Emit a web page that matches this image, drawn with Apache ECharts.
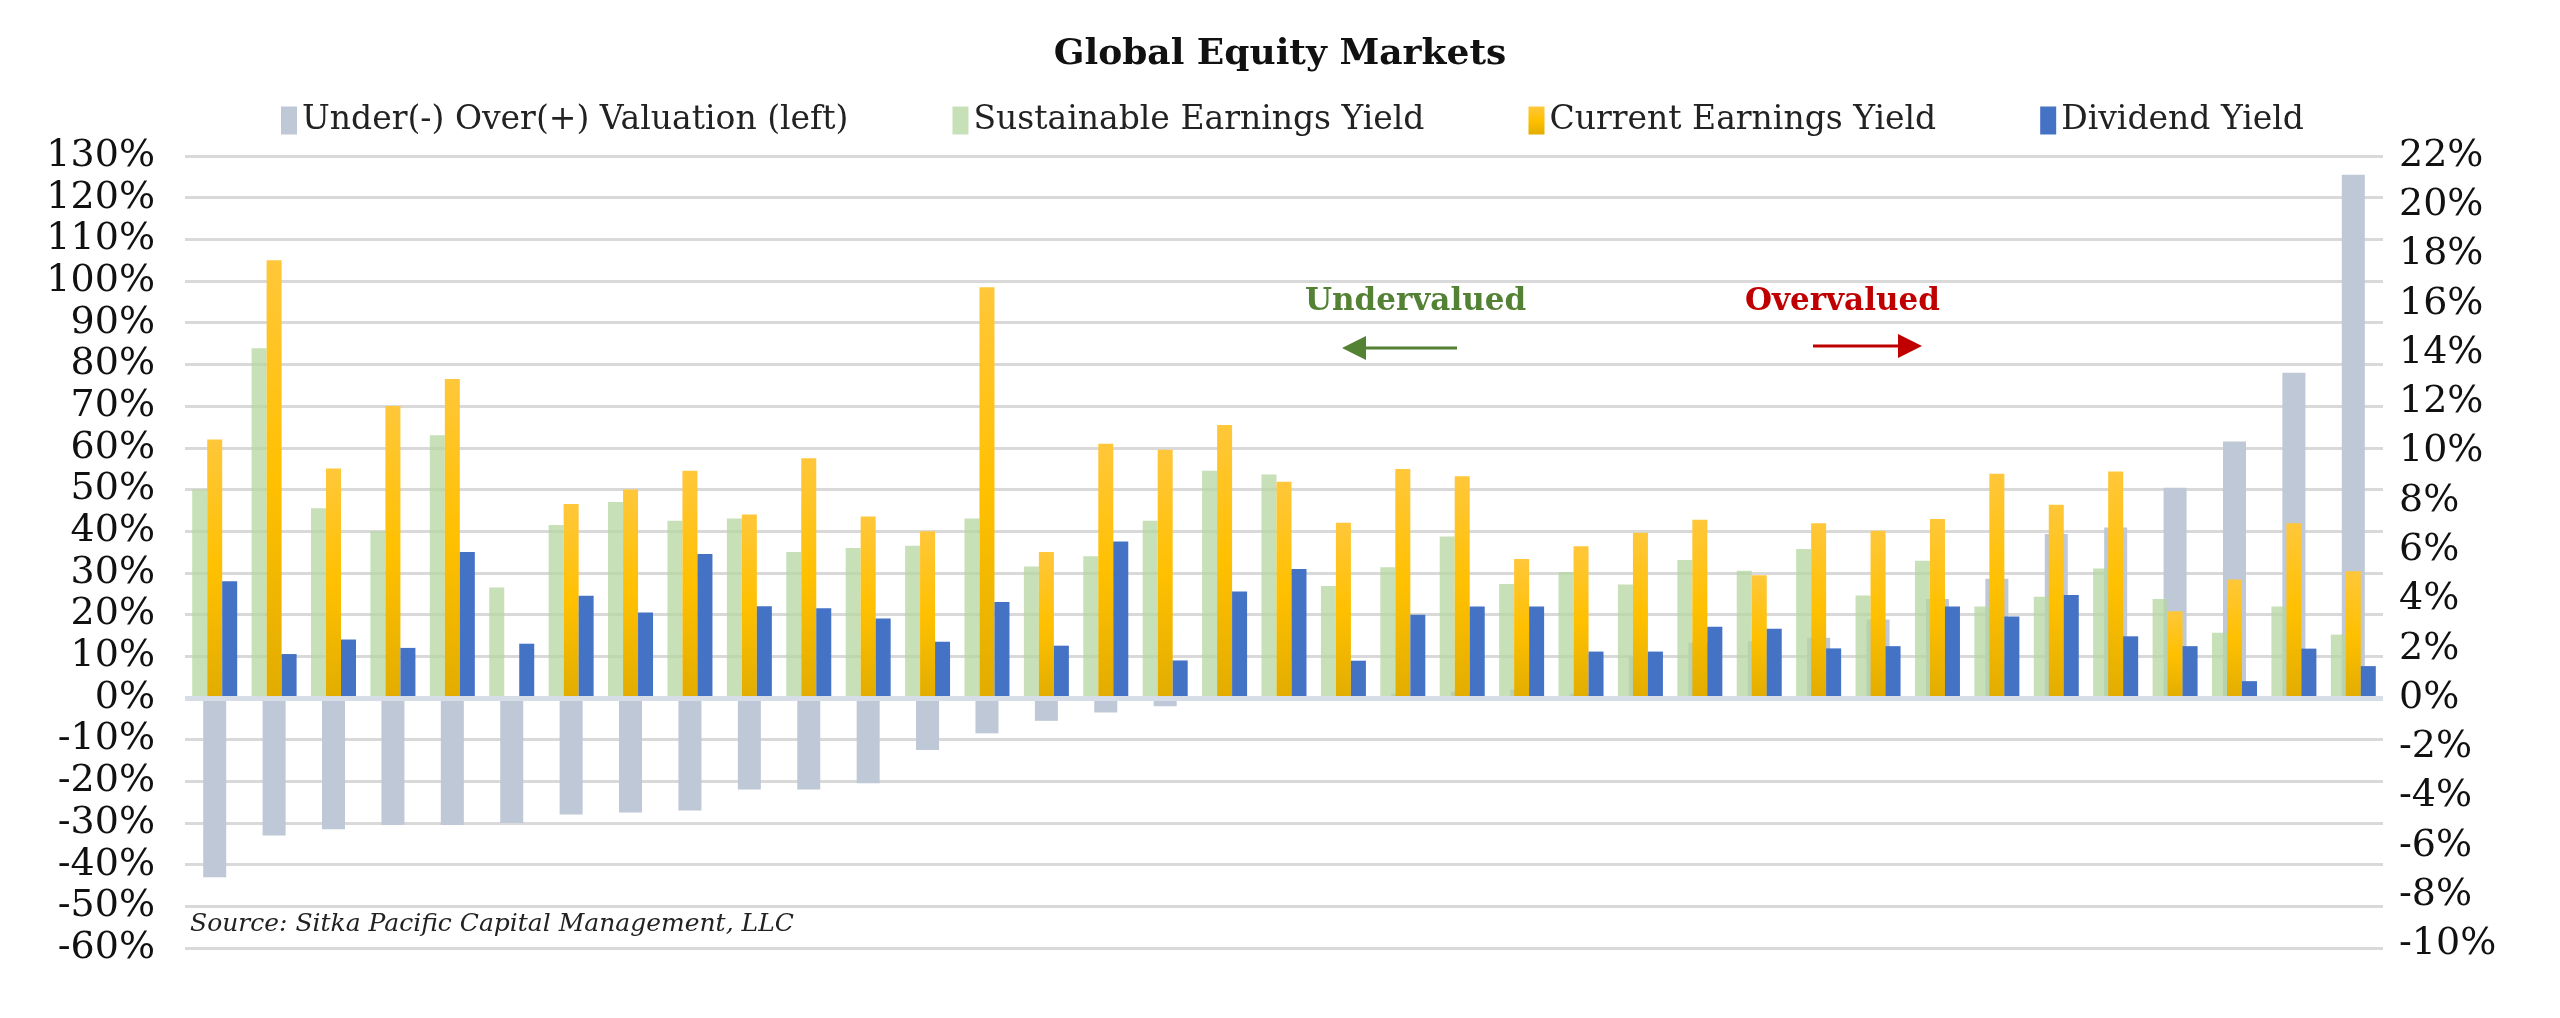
<!DOCTYPE html>
<html><head><meta charset="utf-8">
<script src="https://cdn.jsdelivr.net/npm/echarts@6/dist/echarts.min.js"></script>
<style>html,body{margin:0;padding:0;background:#fff}#c{width:2560px;height:1018px}</style>
</head><body><div id="c"></div>
<script>
const categories = Array.from({length:37},(_,i)=>'M'+(i+1));
const valuation = [-43,-33,-31.5,-30.5,-30.5,-30,-28,-27.5,-27,-22,-22,-20.5,-12.5,-8.5,-5.5,-3.5,-2,-0.5,-0.3,0.3,1,1.5,2,1,10,13.2,13.6,14.4,18.8,23.7,28.6,39.3,40.9,50.4,61.5,78,125.5];
const sustainable = [8.46,14.2,7.7,6.77,10.66,4.48,7.02,7.95,7.19,7.28,5.92,6.09,6.18,7.28,5.33,5.75,7.19,9.22,9.07,4.54,5.3,6.55,4.62,5.11,4.6,5.6,5.16,6.04,4.16,5.57,3.71,4.11,5.25,4.01,2.64,3.71,2.57];
const current = [10.49,17.77,9.31,11.85,12.95,null,7.87,8.46,9.22,7.45,9.73,7.36,6.77,16.67,5.92,10.32,10.07,11.08,8.78,7.11,9.29,9.0,5.64,6.16,6.7,7.23,4.98,7.09,6.79,7.26,9.1,7.84,9.19,3.52,4.81,7.09,5.14];
const dividend = [4.74,1.78,2.37,2.03,5.92,2.2,4.15,3.47,5.84,3.72,3.64,3.22,2.28,3.89,2.12,6.35,1.52,4.32,5.23,1.51,3.38,3.71,3.71,1.88,1.88,2.89,2.81,2.01,2.1,3.71,3.3,4.18,2.5,2.1,0.68,2.0,1.29];
const rightTicks = [-10,-8,-6,-4,-2,0,2,4,6,8,10,12,14,16,18,20,22];

const serif = 'DejaVu Serif';
const chart = echarts.init(document.getElementById('c'));
const yellow = new echarts.graphic.LinearGradient(0,0,0,1,[{offset:0,color:'#ffc73a'},{offset:0.5,color:'#ffc000'},{offset:1,color:'#e2ad00'}]);
chart.setOption({
  animation:false,
  title:{text:'Global Equity Markets',left:'center',top:32,textStyle:{fontFamily:serif,fontSize:36,fontWeight:'bold',color:'#111'}},
  legend:{top:99,left:276,itemGap:104,itemWidth:16,itemHeight:28,icon:'rect',
    textStyle:{fontFamily:serif,fontSize:33,color:'#222'},
    data:['Under(-) Over(+) Valuation (left)','Sustainable Earnings Yield','Current Earnings Yield','Dividend Yield']},
  grid:{left:185,right:177,top:156,bottom:70,containLabel:false},
  xAxis:[
    {type:'category',data:categories,axisLine:{show:false},axisTick:{show:false},axisLabel:{show:false}},
    {type:'category',data:categories,show:false}
  ],
  yAxis:[
    {type:'value',min:-60,max:130,interval:10,position:'left',
      axisLabel:{formatter:'{value}%',fontFamily:serif,fontSize:38,color:'#111',margin:30},
      splitLine:{lineStyle:{color:'#d9d9d9',width:3}},axisLine:{show:false},axisTick:{show:false}},
    {type:'value',min:-60*22/130,max:22,position:'right',
      axisLabel:{formatter:v=>Math.round(v)+'%',fontFamily:serif,fontSize:38,color:'#111',margin:16,customValues:rightTicks},
      splitLine:{show:false},axisLine:{show:false},axisTick:{show:false}}
  ],
  series:[
    {name:'Under(-) Over(+) Valuation (left)',type:'bar',xAxisIndex:0,yAxisIndex:0,data:valuation,barWidth:23,
      itemStyle:{color:'#bec8d6'},z:2,
      markLine:{silent:true,symbol:'none',label:{show:false},lineStyle:{color:'#d6dde6',width:5,type:'solid'},data:[{yAxis:0}]}},
    {name:'Sustainable Earnings Yield',type:'bar',xAxisIndex:1,yAxisIndex:1,data:sustainable,barWidth:15,barGap:'0%',
      itemStyle:{color:'rgba(180,214,160,0.75)'},z:3},
    {name:'Current Earnings Yield',type:'bar',xAxisIndex:1,yAxisIndex:1,data:current,barWidth:15,barGap:'0%',
      itemStyle:{color:yellow},z:3},
    {name:'Dividend Yield',type:'bar',xAxisIndex:1,yAxisIndex:1,data:dividend,barWidth:15,barGap:'0%',
      itemStyle:{color:'#4472c4'},z:3}
  ],
  graphic:[
    {type:'text',left:1305,top:286,style:{text:'Undervalued',fontFamily:serif,fontSize:31,fontWeight:'bold',fill:'#548235'}},
    {type:'line',shape:{x1:1360,y1:348,x2:1457,y2:348},style:{stroke:'#548235',lineWidth:3}},
    {type:'polygon',shape:{points:[[1342,348],[1366,336],[1366,360]]},style:{fill:'#548235'}},
    {type:'text',left:1745,top:286,style:{text:'Overvalued',fontFamily:serif,fontSize:31,fontWeight:'bold',fill:'#c00000'}},
    {type:'line',shape:{x1:1813,y1:346,x2:1900,y2:346},style:{stroke:'#c00000',lineWidth:3}},
    {type:'polygon',shape:{points:[[1922,346],[1898,334],[1898,358]]},style:{fill:'#c00000'}},
    {type:'text',left:190,top:912,style:{text:'Source: Sitka Pacific Capital Management, LLC',fontFamily:serif,fontStyle:'italic',fontSize:25,fill:'#222'}}
  ]
});
</script></body></html>
